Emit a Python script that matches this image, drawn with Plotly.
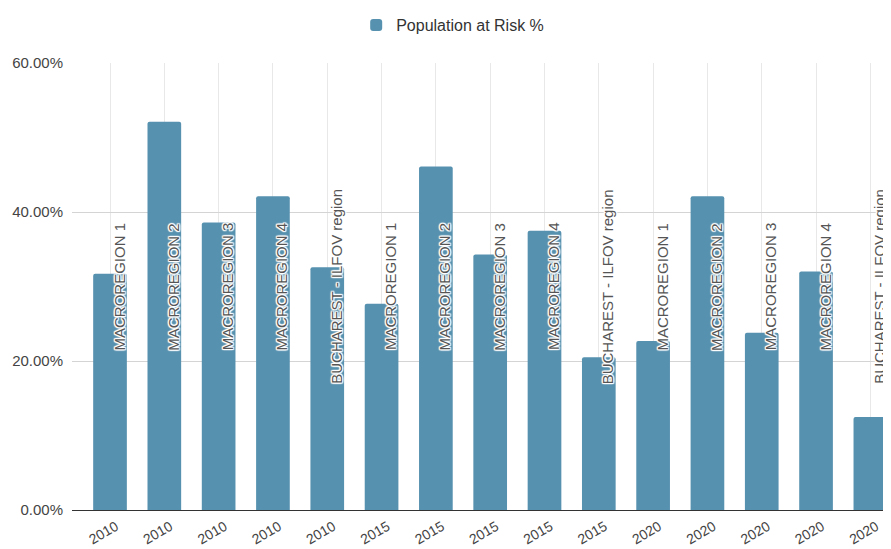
import plotly.graph_objects as go

years = ["2010", "2010", "2010", "2010", "2010",
         "2015", "2015", "2015", "2015", "2015",
         "2020", "2020", "2020", "2020", "2020"]
regions = ["MACROREGION 1", "MACROREGION 2", "MACROREGION 3", "MACROREGION 4", "BUCHAREST - ILFOV region",
           "MACROREGION 1", "MACROREGION 2", "MACROREGION 3", "MACROREGION 4", "BUCHAREST - ILFOV region",
           "MACROREGION 1", "MACROREGION 2", "MACROREGION 3", "MACROREGION 4", "BUCHAREST - ILFOV region"]
risk_pct = [31.7, 52.1, 38.6, 42.1, 32.6,
            27.7, 46.1, 34.3, 37.5, 20.5,
            22.7, 42.1, 23.8, 32.0, 12.5]
y_ticks = [0, 0.2, 0.4, 0.6]
y_ticktext = ["0.00%", "20.00%", "40.00%", "60.00%"]

idx = list(range(len(years)))
vals = [v / 100 for v in risk_pct]

FONT = "Liberation Sans, Arial, sans-serif"
BAR = "#5691af"

fig = go.Figure()
fig.add_trace(go.Bar(
    x=idx, y=vals, name="Population at Risk %",
    marker=dict(color=BAR, line=dict(width=0)),
    width=0.62, showlegend=True,
))

halo = ("1px 0 1px #fff, -1px 0 1px #fff, 0 1px 1px #fff, 0 -1px 1px #fff, "
        "1px 1px 1px #fff, -1px -1px 1px #fff, 1px -1px 1px #fff, -1px 1px 1px #fff")
for i, r in zip(idx, regions):
    fig.add_annotation(
        x=i, y=0.30, xref="x", yref="y", text=r, showarrow=False,
        textangle=-90, xshift=9,
        font=dict(family=FONT, size=15, color="#555555", shadow=halo),
    )

# page body has an 8px margin, so the figure is sized to end at the window edge
fig.update_layout(
    width=883, height=541,
    margin=dict(l=64, r=0, t=55, b=39, autoexpand=False),
    paper_bgcolor="white", plot_bgcolor="white",
    barcornerradius=2,
    font=dict(family=FONT, color="#444444"),
    showlegend=True,
    legend=dict(orientation="h", x=0.347, xanchor="left",
                yref="container", y=1 - 17 / 541, yanchor="middle",
                font=dict(family=FONT, size=16, color="#333333"),
                bgcolor="rgba(0,0,0,0)"),
    xaxis=dict(
        tickmode="array", tickvals=idx, ticktext=years, tickangle=-30,
        range=[-0.70, 14.38], showgrid=True, gridcolor="#e8e8e8", gridwidth=1,
        ticks="", showline=False, zeroline=False, automargin=False,
        ticklabelstandoff=5, ticklabelshift=6,
        tickfont=dict(family=FONT, size=14, color="#444444"),
    ),
    yaxis=dict(
        range=[0, 0.6], tickmode="array", tickvals=y_ticks, ticktext=y_ticktext,
        showgrid=True, gridcolor="#d4d4d4", gridwidth=1,
        zeroline=True, zerolinecolor="#333333", zerolinewidth=1,
        ticks="", ticklabelstandoff=8, automargin=False,
        tickfont=dict(family=FONT, size=15, color="#444444"),
    ),
)

fig.write_html("out.html")
